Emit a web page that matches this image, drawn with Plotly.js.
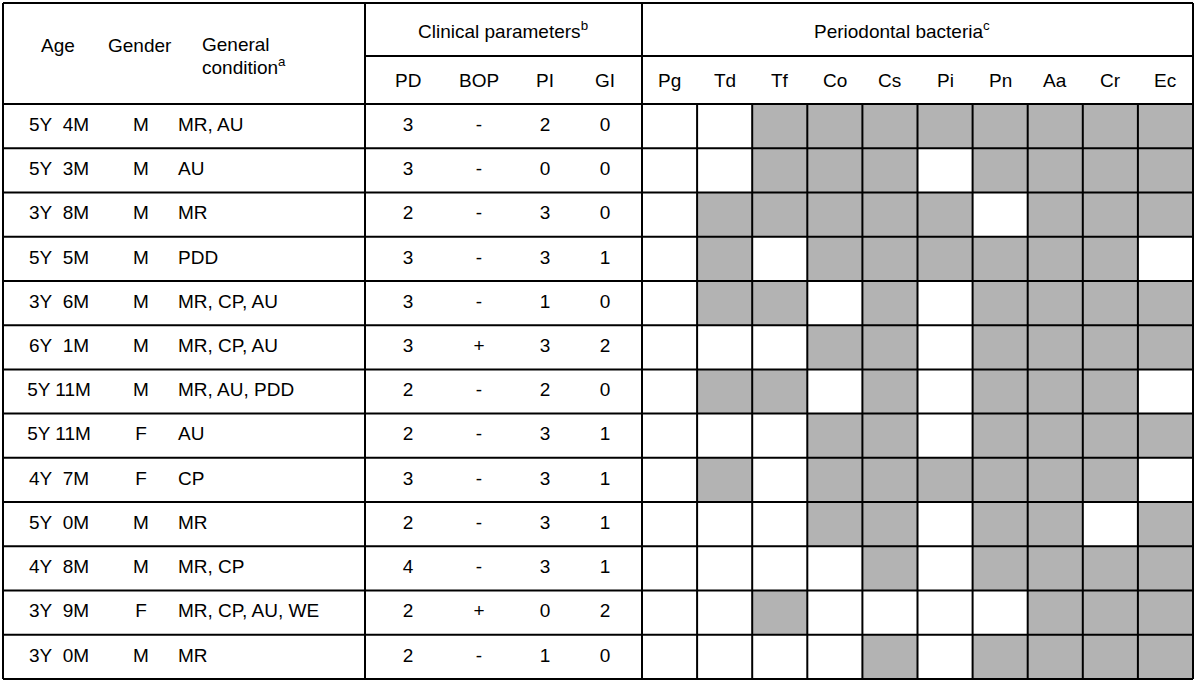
<!DOCTYPE html>
<html><head><meta charset="utf-8">
<script src="https://cdn.plot.ly/plotly-3.0.1.min.js"></script>
<style>html,body{margin:0;padding:0;background:#fff}#chart{width:1200px;height:684px}</style>
</head><body><div id="chart"></div>
<script>
// ---- data ----
const ages = ["5Y\u00a0\u00a04M","5Y\u00a0\u00a03M","3Y\u00a0\u00a08M","5Y\u00a0\u00a05M","3Y\u00a0\u00a06M","6Y\u00a0\u00a01M","5Y 11M","5Y 11M","4Y\u00a0\u00a07M","5Y\u00a0\u00a00M","4Y\u00a0\u00a08M","3Y\u00a0\u00a09M","3Y\u00a0\u00a00M"];
const genders = ["M","M","M","M","M","M","M","F","F","M","M","F","M"];
const conditions = ["MR, AU","AU","MR","PDD","MR, CP, AU","MR, CP, AU","MR, AU, PDD","AU","CP","MR","MR, CP","MR, CP, AU, WE","MR"];
const PD  = [3,3,2,3,3,3,2,2,3,2,4,2,2];
const BOP = ["-","-","-","-","-","+","-","-","-","-","-","+","-"];
const PI  = [2,0,3,3,1,3,2,3,3,3,3,0,1];
const GI  = [0,0,0,1,0,2,0,1,1,1,1,2,0];
const clinicalLabels = ["PD","BOP","PI","GI"];
const bacteria = ["Pg","Td","Tf","Co","Cs","Pi","Pn","Aa","Cr","Ec"];
// 1 = detected (grey cell), 0 = not detected
const detected = [
  [0,0,1,1,1,1,1,1,1,1],
  [0,0,1,1,1,0,1,1,1,1],
  [0,1,1,1,1,1,0,1,1,1],
  [0,1,0,1,1,1,1,1,1,0],
  [0,1,1,0,1,0,1,1,1,1],
  [0,0,0,1,1,0,1,1,1,1],
  [0,1,1,0,1,0,1,1,1,0],
  [0,0,0,1,1,0,1,1,1,1],
  [0,1,0,1,1,1,1,1,1,0],
  [0,0,0,1,1,0,1,1,0,1],
  [0,0,0,0,1,0,1,1,1,1],
  [0,0,1,0,0,0,0,1,1,1],
  [0,0,0,0,1,0,1,1,1,1]
];

// ---- layout geometry ----
const L = 3, R = 1193, T = 3, B = 679;
const headMid = 56, headBot = 104;
const divA = 365, divB = 642;
const nRows = ages.length;
const rowH = (B - headBot) / nRows;
const rowY = ages.map((_, i) => headBot + rowH * (i + 0.5));
const xAge = 59, xGender = 141, xCond = 180;
const xClin = [408, 479, 545, 605];
const colW = (R - divB) / bacteria.length;
const xBac = bacteria.map((_, j) => divB + colW * (j + 0.5));

const FONT = {family: '"Liberation Sans", Arial, sans-serif', size: 19, color: '#000'};

const traces = [];
traces.push({
  type: 'heatmap', x: xBac, y: rowY, z: detected, zmin: 0, zmax: 1,
  colorscale: [[0, '#ffffff'], [1, '#b3b3b3']], showscale: false, hoverinfo: 'skip'
});
function textCol(x, vals, pos) {
  traces.push({type: 'scatter', mode: 'text', x: vals.map(() => x), y: rowY,
    text: vals.map(String), textposition: pos || 'middle center', textfont: FONT,
    hoverinfo: 'skip', showlegend: false, cliponaxis: false});
}
textCol(xAge, ages);
textCol(xGender, genders);
textCol(xCond - 2, conditions, 'middle right');
[PD, BOP, PI, GI].forEach((arr, k) => textCol(xClin[k], arr));

const yHead2 = (headMid + headBot) / 2;
const annotations = [];
function ann(x, y, text, anchor) {
  annotations.push({x, y, xref: 'x', yref: 'y', text, showarrow: false,
    xanchor: anchor || 'center', yanchor: 'middle', font: FONT});
}
ann(58, 45, 'Age');
ann(140, 45, 'Gender');
ann(200, 44, 'General', 'left');
ann(200, 66, 'condition<sup>a</sup>', 'left');
ann(503, 30, 'Clinical parameters<sup>b</sup>');
ann(902, 30, 'Periodontal bacteria<sup>c</sup>');
clinicalLabels.forEach((t, k) => ann(xClin[k], yHead2, t));
bacteria.forEach((t, j) => ann(xBac[j], yHead2, t));

const shapes = [];
function line(x0, y0, x1, y1, w) {
  shapes.push({type: 'line', xref: 'x', yref: 'y', x0, y0, x1, y1,
    line: {color: '#000', width: w || 2}});
}
line(L, T, R, T);
line(L, headBot, R, headBot);
line(divA, headMid, R, headMid);
for (let i = 1; i <= nRows; i++) line(L, headBot + rowH * i, R, headBot + rowH * i);
line(L, T, L, B);
line(divA, T, divA, B);
line(divB, T, divB, B);
line(R, T, R, B);
for (let j = 1; j < bacteria.length; j++) line(divB + colW * j, headBot, divB + colW * j, B);

Plotly.newPlot('chart', traces, {
  width: 1200, height: 684, margin: {l: 0, r: 0, t: 0, b: 0},
  paper_bgcolor: '#fff', plot_bgcolor: '#fff', showlegend: false,
  xaxis: {range: [0, 1200], visible: false, fixedrange: true},
  yaxis: {range: [684, 0], visible: false, fixedrange: true},
  annotations, shapes
}, {staticPlot: true});
</script></body></html>
